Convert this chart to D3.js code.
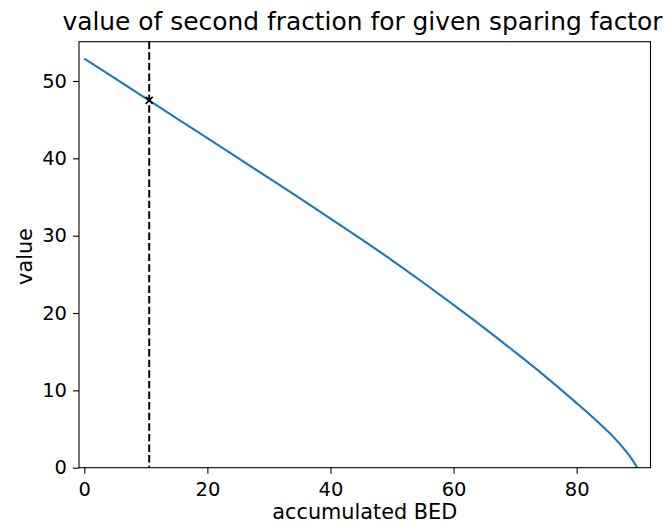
<!DOCTYPE html>
<html>
<head>
<meta charset="utf-8">
<script src="https://cdn.jsdelivr.net/npm/d3@7"></script>
<style>
  html, body { margin: 0; padding: 0; background: #fff; }
  text { font-family: "DejaVu Sans", sans-serif; fill: #000; }
</style>
</head>
<body>
<svg id="chart" width="666" height="525"></svg>
<script>
// ---- data ----
const bedValues = [0, 5, 10, 15, 20, 25, 30, 35, 40, 45, 50, 55, 60, 65, 70, 75, 80, 82.5, 85, 86, 87, 88, 89, 89.85];
const fractionValues = [52.9, 50.33, 47.75, 45.18, 42.6, 40.03, 37.45, 34.85, 32.2, 29.55, 26.82, 23.98, 21.05, 18.05, 14.95, 11.75, 8.35, 6.6, 4.75, 3.95, 3.08, 2.13, 1.08, 0.0];
const xTicks = [0, 20, 40, 60, 80];
const yTicks = [0, 10, 20, 30, 40, 50];
const markerX = [10.55];
const markerY = [47.5];
const titleText = "value of second fraction for given sparing factor";
const xLabelText = "accumulated BED";
const yLabelText = "value";

// ---- layout ----
const svg = d3.select("#chart");
const pLeft = 79, pRight = 650.5, pTop = 41.7, pBottom = 467.7;

const x = d3.scaleLinear().domain([-0.86, 92.0]).range([pLeft, pRight]);
const y = d3.scaleLinear().domain([0, 55.08]).range([pBottom, pTop]);

const pts = bedValues.map((b, i) => [b, fractionValues[i]]);

// curve
svg.append("path")
  .datum(pts)
  .attr("fill", "none")
  .attr("stroke", "#1f77b4")
  .attr("stroke-width", 2.1)
  .attr("d", d3.line().x(d => x(d[0])).y(d => y(d[1])).curve(d3.curveMonotoneX));

// vertical dashed line
svg.append("line")
  .attr("x1", x(markerX[0])).attr("x2", x(markerX[0]))
  .attr("y1", pTop).attr("y2", pBottom)
  .attr("stroke", "#000").attr("stroke-width", 2)
  .attr("stroke-dasharray", "7.4,3.2");

// marker x
const mx = x(markerX[0]), my = y(markerY[0]), ms = 3.5;
svg.append("path")
  .attr("d", `M${mx - ms},${my - ms}L${mx + ms},${my + ms}M${mx - ms},${my + ms}L${mx + ms},${my - ms}`)
  .attr("stroke", "#000").attr("stroke-width", 1.8).attr("fill", "none");

// axes
const xAxis = svg.append("g").attr("transform", `translate(0,${pBottom})`)
  .call(d3.axisBottom(x).tickValues(xTicks).tickSize(6).tickPadding(8).tickFormat(d3.format("d")));
const yAxis = svg.append("g").attr("transform", `translate(${pLeft},0)`)
  .call(d3.axisLeft(y).tickValues(yTicks).tickSize(6).tickPadding(6).tickFormat(d3.format("d")));
[xAxis, yAxis].forEach(g => {
  g.select(".domain").remove();
  g.selectAll(".tick line").attr("stroke", "#000").attr("stroke-width", 1.1);
  g.selectAll(".tick text").attr("font-size", "19.5px").attr("font-family", "DejaVu Sans, sans-serif").attr("fill", "#222");
});

// frame
svg.append("rect")
  .attr("x", pLeft).attr("y", pTop)
  .attr("width", pRight - pLeft).attr("height", pBottom - pTop)
  .attr("fill", "none").attr("stroke", "#000").attr("stroke-width", 1.1);

// title and labels
svg.append("text")
  .attr("x", 362.5).attr("y", 30)
  .attr("text-anchor", "middle").attr("font-size", "24.9px").attr("fill", "#111")
  .text(titleText);

svg.append("text")
  .attr("x", (pLeft + pRight) / 2).attr("y", 519)
  .attr("text-anchor", "middle").attr("font-size", "20.8px").attr("fill", "#222")
  .text(xLabelText);

svg.append("text")
  .attr("transform", `translate(32,${256.5}) rotate(-90)`)
  .attr("text-anchor", "middle").attr("font-size", "20.8px").attr("fill", "#222")
  .text(yLabelText);
</script>
</body>
</html>
